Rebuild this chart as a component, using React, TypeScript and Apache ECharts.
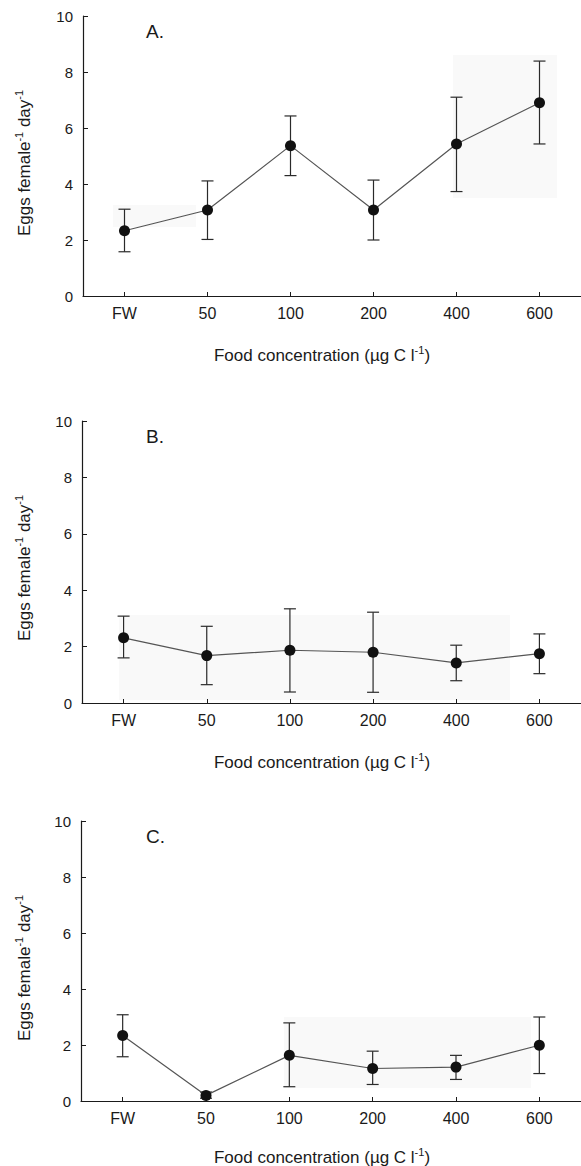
import React, { useEffect, useRef } from "react";
import * as echarts from "echarts";

const categories = ["FW", "50", "100", "200", "400", "600"];
const yTicks = [0, 2, 4, 6, 8, 10];
const panelLabels = ["A.", "B.", "C."];

const meanA = [2.33, 3.07, 5.37, 3.07, 5.43, 6.9];
const upperA = [3.1, 4.11, 6.43, 4.14, 7.1, 8.39];
const lowerA = [1.58, 2.02, 4.3, 2.0, 3.73, 5.43];

const meanB = [2.31, 1.68, 1.87, 1.8, 1.42, 1.75];
const upperB = [3.08, 2.72, 3.34, 3.22, 2.05, 2.45];
const lowerB = [1.6, 0.65, 0.39, 0.38, 0.79, 1.04];

const meanC = [2.34, 0.2, 1.63, 1.16, 1.21, 1.99];
const upperC = [3.08, 0.32, 2.79, 1.78, 1.63, 3.0];
const lowerC = [1.58, 0.1, 0.51, 0.59, 0.77, 0.98];

const FONT = "'Liberation Sans', Arial, Helvetica, sans-serif";
const INK = "#1a1a1a";

export default function App() {
  const ref = useRef<HTMLDivElement>(null);

  useEffect(() => {
    if (!ref.current) return;
    const chart = echarts.init(ref.current, undefined, { renderer: "svg" });

    const panels = [
      { mean: meanA, upper: upperA, lower: lowerA },
      { mean: meanB, upper: upperB, lower: lowerB },
      { mean: meanC, upper: upperC, lower: lowerC },
    ];
    const grids = [
      { left: 83, top: 16, width: 500, height: 280 },
      { left: 82, top: 421, width: 500, height: 282 },
      { left: 81, top: 821, width: 501, height: 280 },
    ];
    const yNameY = [163, 568, 968];
    const xNameY = [355, 762, 1157];
    const shades = [
      [
        { x: 113, y: 205, w: 83, h: 22 },
        { x: 453, y: 55, w: 104, h: 143 },
      ],
      [{ x: 119, y: 615, w: 391, h: 85 }],
      [{ x: 284, y: 1017, w: 247, h: 71 }],
    ];

    const errorRender = (params: any, api: any) => {
      const x = api.value(0);
      const lo = api.value(1);
      const hi = api.value(2);
      const pHi = api.coord([x, hi]);
      const pLo = api.coord([x, lo]);
      const hw = 6;
      const st = { stroke: "#2a2a2a", lineWidth: 1.2 };
      return {
        type: "group",
        children: [
          { type: "line", shape: { x1: pHi[0], y1: pHi[1], x2: pLo[0], y2: pLo[1] }, style: st },
          { type: "line", shape: { x1: pHi[0] - hw, y1: pHi[1], x2: pHi[0] + hw, y2: pHi[1] }, style: st },
          { type: "line", shape: { x1: pLo[0] - hw, y1: pLo[1], x2: pLo[0] + hw, y2: pLo[1] }, style: st },
        ],
      };
    };

    const graphics: any[] = [];
    shades.forEach((list) =>
      list.forEach((r) =>
        graphics.push({
          type: "rect",
          z: -10,
          silent: true,
          shape: { x: r.x, y: r.y, width: r.w, height: r.h },
          style: { fill: "#f9f9f9" },
        })
      )
    );
    panelLabels.forEach((lab, i) => {
      graphics.push({
        type: "text",
        x: 146,
        y: grids[i].top + 15,
        style: {
          text: lab,
          fontSize: 19,
          fontFamily: FONT,
          fill: INK,
          verticalAlign: "middle",
          align: "left",
        },
      });
      graphics.push({
        type: "text",
        x: 24,
        y: yNameY[i],
        rotation: Math.PI / 2,
        style: {
          text: "{a|Eggs female}{s|-1}{a| day}{s|-1}",
          align: "center",
          verticalAlign: "middle",
          fill: INK,
          fontFamily: FONT,
          rich: {
            a: { fontSize: 17, lineHeight: 22, fontFamily: FONT, fill: INK },
            s: { fontSize: 11, verticalAlign: "top", lineHeight: 22, fontFamily: FONT, fill: INK },
          },
        },
      });
      graphics.push({
        type: "text",
        x: 322,
        y: xNameY[i],
        style: {
          text: "{a|Food concentration (µg C l}{s|-1}{a|)}",
          align: "center",
          verticalAlign: "middle",
          fill: INK,
          fontFamily: FONT,
          rich: {
            a: { fontSize: 17, lineHeight: 22, fontFamily: FONT, fill: INK },
            s: { fontSize: 11, verticalAlign: "top", lineHeight: 22, fontFamily: FONT, fill: INK },
          },
        },
      });
    });

    const option: any = {
      animation: false,
      backgroundColor: "#ffffff",
      grid: grids.map((g) => ({ ...g, containLabel: false })),
      xAxis: grids.map((_, i) => ({
        type: "category",
        gridIndex: i,
        data: categories,
        boundaryGap: true,
        axisLine: { show: true, lineStyle: { color: INK, width: 1.2 } },
        axisTick: { show: true, inside: true, alignWithLabel: true, length: 4, lineStyle: { color: INK } },
        axisLabel: { fontSize: 16, fontFamily: FONT, color: INK, margin: 9 },
        splitLine: { show: false },
      })),
      yAxis: grids.map((_, i) => ({
        type: "value",
        gridIndex: i,
        min: yTicks[0],
        max: yTicks[yTicks.length - 1],
        interval: yTicks[1] - yTicks[0],
        axisLine: { show: true, lineStyle: { color: INK, width: 1.2 } },
        axisTick: { show: true, inside: true, length: 5, lineStyle: { color: INK } },
        axisLabel: { fontSize: 15, fontFamily: FONT, color: INK, margin: 10 },
        splitLine: { show: false },
      })),
      series: panels.flatMap((p, i) => [
        {
          type: "custom",
          xAxisIndex: i,
          yAxisIndex: i,
          renderItem: errorRender,
          encode: { x: 0, y: [1, 2] },
          data: categories.map((_, k) => [k, p.lower[k], p.upper[k]]),
          z: 2,
        },
        {
          type: "line",
          xAxisIndex: i,
          yAxisIndex: i,
          data: p.mean,
          symbol: "circle",
          symbolSize: 11,
          itemStyle: { color: "#111111" },
          lineStyle: { color: "#555555", width: 1.2 },
          z: 3,
        },
      ]),
      graphic: graphics,
    };

    chart.setOption(option);
    return () => chart.dispose();
  }, []);

  return (
    <div
      ref={ref}
      style={{ position: "absolute", left: 0, top: 0, width: 581, height: 1166 }}
    />
  );
}
